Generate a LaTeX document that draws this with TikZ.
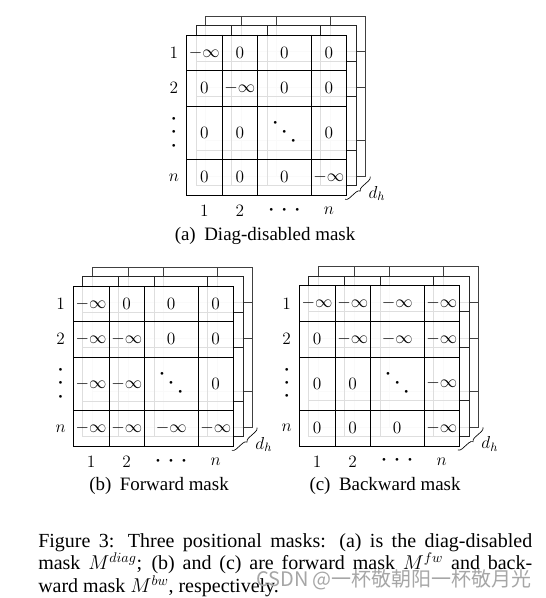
\RequirePackage{fix-cm}
\documentclass[tikz,border=0pt]{standalone}
\usepackage[no-math]{fontspec}
\setmainfont{Liberation Serif}
\newfontfamily\cjk{Noto Sans CJK SC}
\usetikzlibrary{decorations.pathreplacing}
\tikzset{
  layerline/.style={line width=0.6pt},
  cellt/.style={inner sep=0pt, font=\fontsize{13}{15}\selectfont},
  axlab/.style={inner sep=0pt, font=\fontsize{13}{15}\selectfont},
  dotlab/.style={inner sep=0pt, font=\fontsize{20}{20}\selectfont},
  subcap/.style={inner sep=0pt, font=\fontsize{14.2}{16}\selectfont},
  dhbrace/.style={decorate, decoration={brace, amplitude=3pt}, line width=0.5pt},
}
\newcommand\hdotsx{$\cdot$\hspace{4.2pt}$\cdot$\hspace{4.2pt}$\cdot$}
\newcommand\vdotsx{\rlap{\raisebox{9.9pt}{$\cdot$}}\rlap{\raisebox{-9.9pt}{$\cdot$}}$\cdot$}
\newcommand\ddotsx{{\fontsize{20}{20}\selectfont\raisebox{6.75pt}{$\cdot$}\hspace{1.2pt}$\cdot$\hspace{1.2pt}\raisebox{-6.75pt}{$\cdot$}}}
\newcommand\masklayers{%
 \foreach \k/\lc in {2/black!75,1/black!85,0/black}{%
  \begin{scope}[shift={(9.5*\k,-9.5*\k)}]
   \filldraw[layerline, fill=white, fill opacity=0.85, draw=\lc] (0,0) rectangle (160.2,160.2);
   \draw[layerline, draw=\lc] (35.6,0)--(35.6,160.2) (71.2,0)--(71.2,160.2) (124.6,0)--(124.6,160.2)
        (0,35.6)--(160.2,35.6) (0,71.2)--(160.2,71.2) (0,124.6)--(160.2,124.6);
  \end{scope}}}
\newcommand\masklabels[1]{%
 \node[axlab] (#1-r1) at (-12.6,17.8) {$1$};
 \node[axlab] (#1-r2) at (-12.6,53.4) {$2$};
 \node[dotlab] (#1-r3) at (-12.6,97.9) {\vdotsx};
 \node[axlab] (#1-r4) at (-12.6,142.4) {$n$};
 \node[axlab] (#1-c1) at (17.8,176.2) {$1$};
 \node[axlab] (#1-c2) at (53.4,176.2) {$2$};
 \node[dotlab] (#1-c3) at (97.9,175.2) {\hdotsx};
 \node[axlab] (#1-c4) at (142.4,176.2) {$n$};
 \coordinate (#1-bt) at (183.7,141.7);
 \coordinate (#1-bb) at (158.5,164.3);
 \draw[dhbrace] (#1-bt) -- (#1-bb);
 \node[axlab] (#1-dh) at (190.5,158.5) {$d_h$};
}
\newcommand\cellrow[7]{%
 \node[cellt] (#1-#2-1) at (17.8,#3) {#4};
 \node[cellt] (#1-#2-2) at (53.4,#3) {#5};
 \node[cellt] (#1-#2-3) at (97.9,#3) {#6};
 \node[cellt] (#1-#2-4) at (142.4,#3) {#7};
}
\begin{document}
\begin{tikzpicture}[x=0.75pt,y=-0.75pt]
\useasboundingbox (0,0) rectangle (545,598);
% (a)
\begin{scope}[shift={(186.5,35)}]
 \masklayers
 \masklabels{a}
 \cellrow{a}{1}{17.8}{$-\infty$}{$0$}{$0$}{$0$}
 \cellrow{a}{2}{53.4}{$0$}{$-\infty$}{$0$}{$0$}
 \cellrow{a}{3}{97.9}{$0$}{$0$}{\ddotsx}{$0$}
 \cellrow{a}{4}{142.4}{$0$}{$0$}{$0$}{$-\infty$}
\end{scope}
\node[subcap] (capa) at (265,236) {(a)\hspace{0.45em}Diag-disabled mask};
% (b)
\begin{scope}[shift={(73.3,286)}]
 \masklayers
 \masklabels{b}
 \cellrow{b}{1}{17.8}{$-\infty$}{$0$}{$0$}{$0$}
 \cellrow{b}{2}{53.4}{$-\infty$}{$-\infty$}{$0$}{$0$}
 \cellrow{b}{3}{97.9}{$-\infty$}{$-\infty$}{\ddotsx}{$0$}
 \cellrow{b}{4}{142.4}{$-\infty$}{$-\infty$}{$-\infty$}{$-\infty$}
\end{scope}
\node[subcap] (capb) at (159,486) {(b)\hspace{0.45em}Forward mask};
% (c)
\begin{scope}[shift={(299.3,285.7)}]
 \masklayers
 \masklabels{c}
 \cellrow{c}{1}{17.8}{$-\infty$}{$-\infty$}{$-\infty$}{$-\infty$}
 \cellrow{c}{2}{53.4}{$0$}{$-\infty$}{$-\infty$}{$-\infty$}
 \cellrow{c}{3}{97.9}{$0$}{$0$}{\ddotsx}{$-\infty$}
 \cellrow{c}{4}{142.4}{$0$}{$0$}{$0$}{$-\infty$}
\end{scope}
\node[subcap] (capc) at (385,486) {(c)\hspace{0.45em}Backward mask};
% main caption
\node[anchor=north west, text width=370.5pt, align=justify, inner sep=0pt,
      font=\fontsize{15}{15}\selectfont] (cap) at (38,533)
 {Figure 3: Three positional masks: (a) is the diag-disabled\linebreak
  mask $M^{diag}$; (b) and (c) are forward mask $M^{fw}$ and back-\linebreak
  ward mask $M^{bw}$, respectively.};
\node[inner sep=0pt, text=black!35, font=\cjk\fontsize{15}{15}\selectfont] (wm) at (394,580)
 {CSDN @一杯敬朝阳一杯敬月光};
\end{tikzpicture}
\end{document}
